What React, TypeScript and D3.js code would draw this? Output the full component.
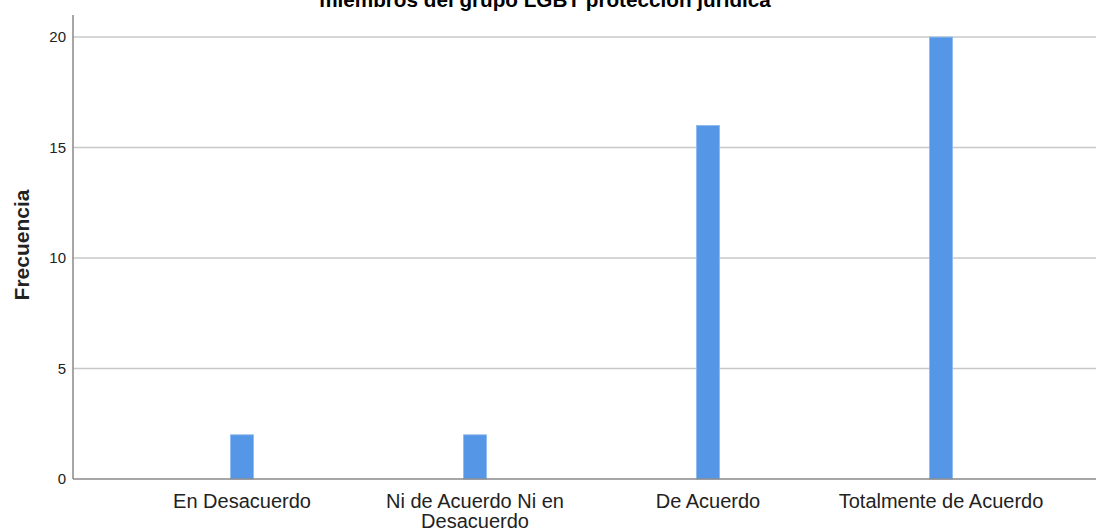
import React from "react";
import * as d3 from "d3";

const categories = ["En Desacuerdo", "Ni de Acuerdo Ni en Desacuerdo", "De Acuerdo", "Totalmente de Acuerdo"];
const categoryLines = [["En Desacuerdo"], ["Ni de Acuerdo Ni en", "Desacuerdo"], ["De Acuerdo"], ["Totalmente de Acuerdo"]];
const frequencies = [2, 2, 16, 20];
const yTicks = [0, 5, 10, 15, 20];
const title = "miembros del grupo LGBT protección jurídica";
const yTitle = "Frecuencia";

export default function App() {
  const W = 1096, H = 530;
  const left = 73, right = 1096, top = 15, bottom = 479;
  const x = d3.scalePoint<string>().domain(categories).range([242, 941]);
  const y = d3.scaleLinear().domain([0, 21]).range([bottom, top]);
  const barW = 23;
  const font = "'Liberation Sans', Arial, sans-serif";
  return (
    <svg width={W} height={H} style={{ position: "absolute", left: 0, top: 0, background: "#fff" }} fontFamily={font}>
      <text x={545} y={7} textAnchor="middle" fontWeight="bold" fontSize={20.7} fill="#000">{title}</text>
      {yTicks.filter(t => t > 0).map(t => (
        <line key={t} x1={left} x2={right} y1={y(t)} y2={y(t)} stroke="#c8c8c8" strokeWidth={1.5} />
      ))}
      {yTicks.map(t => (
        <text key={"l" + t} x={66} y={y(t)} dy="0.35em" textAnchor="end" fontSize={15} fill="#222">{t}</text>
      ))}
      {categories.map((c, i) => (
        <rect key={c} x={(x(c) as number) - barW / 2} y={y(frequencies[i])} width={barW} height={bottom - y(frequencies[i])}
          fill="#5596e6" stroke="#8ab8f0" strokeWidth={0.8} />
      ))}
      <line x1={left} x2={left} y1={top} y2={bottom} stroke="#888" strokeWidth={1.5} />
      <line x1={left} x2={right} y1={bottom} y2={bottom} stroke="#888" strokeWidth={1.5} />
      {categories.map((c, i) => (
        <text key={"c" + c} x={x(c) as number} y={508} textAnchor="middle" fontSize={20} fill="#222">
          {categoryLines[i].map((ln, j) => (
            <tspan key={j} x={x(c) as number} dy={j === 0 ? 0 : 20}>{ln}</tspan>
          ))}
        </text>
      ))}
      <text transform={`translate(29, 245) rotate(-90)`} textAnchor="middle" fontWeight="bold" fontSize={21} fill="#222">{yTitle}</text>
    </svg>
  );
}
